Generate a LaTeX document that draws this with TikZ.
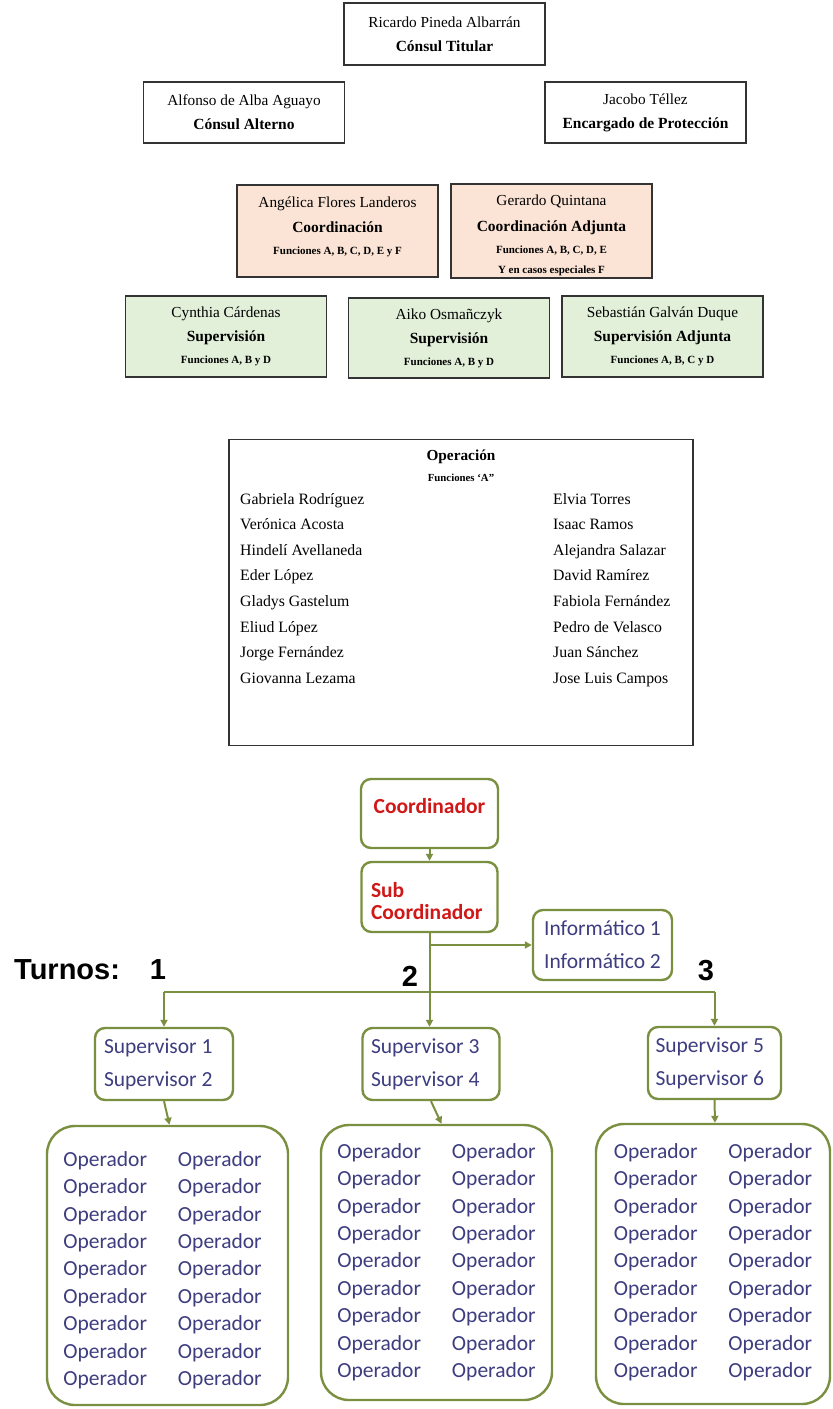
\documentclass[tikz,border=0pt]{standalone}
\usepackage{fontspec}
\setmainfont{Liberation Serif}
\newfontfamily\carlitofont{Carlito}
\newfontfamily\arialfont{Liberation Sans}
\usetikzlibrary{arrows.meta,calc}

\definecolor{peach}{HTML}{FBE4D5}
\definecolor{mint}{HTML}{E2EFD9}
\definecolor{olive}{HTML}{7A9040}
\definecolor{navy}{HTML}{3D3D80}
\definecolor{redtxt}{HTML}{D01818}
\definecolor{edgegray}{HTML}{333333}

\newcommand\nmf{\fontsize{15.3}{24}\selectfont}
\newcommand\ttf{\fontsize{15.5}{24}\selectfont\bfseries}
\newcommand\smf{\fontsize{11}{24}\selectfont\bfseries}

\tikzset{
  topbox/.style={draw=edgegray, line width=1.1pt, inner sep=0pt, align=center,
    minimum width=201pt, font=\fontsize{15.3}{24}\selectfont},
  peachbox/.style={topbox, fill=peach},
  mintbox/.style={topbox, fill=mint},
  gbox/.style={draw=olive, line width=2.4pt, rounded corners=10pt, fill=white,
    inner sep=0pt, font=\carlitofont\fontsize{21.5}{33}\selectfont, text=navy},
  redbox/.style={gbox, text=redtxt, font=\carlitofont\bfseries\fontsize{21.5}{22}\selectfont},
  opbox/.style={gbox, rounded corners=28pt},
  conn/.style={draw=olive, line width=2pt},
  arr/.style={conn, -{Triangle[length=7pt,width=7pt]}},
  turno/.style={font=\arialfont\bfseries\fontsize{29}{32}\selectfont, inner sep=0pt},
  oplist/.style={inner sep=0pt, align=left, font=\fontsize{15.8}{25.6}\selectfont}
}

\newcommand\opcol[2]{%
  \fontsize{21.5}{27.4}\selectfont
  \hspace*{#1}\raisebox{#2}[\height][\depth]{%
  \begin{tabular}{@{}l@{\hspace{31pt}}l@{}}
  Operador & Operador\\ Operador & Operador\\ Operador & Operador\\
  Operador & Operador\\ Operador & Operador\\ Operador & Operador\\
  Operador & Operador\\ Operador & Operador\\ Operador & Operador
  \end{tabular}}}

\begin{document}
\begin{tikzpicture}[x=1pt,y=-1pt]
\useasboundingbox[fill=white] (0,0) rectangle (833,1409);

% ---------- top chart ----------
\node[topbox, minimum height=62pt] (tit) at (444.5,34)
  {{\nmf Ricardo Pineda Albarrán}\\{\ttf Cónsul Titular}};
\node[topbox, minimum height=61pt] (alt) at (244,112.5)
  {{\nmf Alfonso de Alba Aguayo}\\{\ttf Cónsul Alterno}};
\node[topbox, minimum height=61pt] (pro) at (645.5,112.5)
  {{\nmf Jacobo Téllez}\\{\ttf Encargado de Protección}};

\node[peachbox, minimum height=92pt] (coo) at (337.5,231)
  {{\nmf Angélica Flores Landeros}\\[1pt]{\ttf Coordinación}\\[-2pt]{\smf Funciones A, B, C, D, E y F}\\[-14pt]\mbox{}};
\node[peachbox, minimum height=94pt] (coa) at (551.5,231)
  {\mbox{}\\[-4pt]{\nmf Gerardo Quintana}\\[2pt]{\ttf Coordinación Adjunta}\\[-2pt]{\smf Funciones A, B, C, D, E}\\[-4pt]{\smf Y en casos especiales F}};

\node[mintbox, minimum height=81pt] (su1) at (226,336.5)
  {{\nmf Cynthia Cárdenas}\\{\ttf Supervisión}\\[-2pt]{\smf Funciones A, B y D}};
\node[mintbox, minimum height=80pt] (su2) at (449,338)
  {{\nmf Aiko Osmañczyk}\\{\ttf Supervisión}\\[-2pt]{\smf Funciones A, B y D}};
\node[mintbox, minimum height=81pt] (su3) at (662.5,336.5)
  {{\nmf Sebastián Galván Duque}\\{\ttf Supervisión Adjunta}\\[-2pt]{\smf Funciones A, B, C y D}};

\node[topbox, minimum width=464pt, minimum height=306pt] (ope) at (461,592.5) {};
\node[inner sep=0pt, font=\fontsize{15.3}{20}\selectfont\bfseries] (opet) at (461,457) {Operación};
\node[inner sep=0pt, font=\fontsize{10.8}{14}\selectfont\bfseries] (opes) at (461,478) {Funciones ‘A”};
\node[oplist, anchor=north west] (opl) at (240,493)
  {Gabriela Rodríguez\\Verónica Acosta\\Hindelí Avellaneda\\Eder López\\Gladys Gastelum\\Eliud López\\Jorge Fernández\\Giovanna Lezama};
\node[oplist, anchor=north west] (opr) at (553,493)
  {Elvia Torres\\Isaac Ramos\\Alejandra Salazar\\David Ramírez\\Fabiola Fernández\\Pedro de Velasco\\Juan Sánchez\\Jose Luis Campos};

% ---------- bottom chart ----------
\node[redbox, minimum width=137pt, minimum height=69pt, align=center] (cdr) at (429.5,813.5)
  {Coordinador\\[-7pt]\mbox{}};
\node[redbox, minimum width=136pt, minimum height=70pt, align=flush left, text width=117pt] (sub) at (429.5,897)
  {\mbox{}\\[1pt]Sub\\Coordinador};
\node[gbox, minimum width=139pt, minimum height=70pt, align=flush left] (inf) at (602.5,945)
  {Informático 1\\Informático 2};

\node[gbox, minimum width=138pt, minimum height=72pt, align=flush left, text width=120pt] (sv1) at (164,1064)
  {Supervisor 1\\Supervisor 2};
\node[gbox, minimum width=137pt, minimum height=72pt, align=flush left, text width=120pt] (sv2) at (431,1064)
  {Supervisor 3\\Supervisor 4};
\node[gbox, minimum width=133pt, minimum height=72pt, align=flush left, text width=118pt] (sv3) at (714.5,1063)
  {Supervisor 5\\Supervisor 6};

\node[opbox, minimum width=241pt, minimum height=279pt] (op1) at (167.5,1265.5) {\opcol{-10pt}{-5pt}};
\node[opbox, minimum width=231pt, minimum height=275pt] (op2) at (436.5,1262.5) {\opcol{0pt}{0pt}};
\node[opbox, minimum width=234pt, minimum height=280pt] (op3) at (713,1264) {\opcol{0pt}{1.5pt}};

\node[turno, anchor=west] (tur) at (14,970) {Turnos:};
\node[turno] (t1) at (158,970) {1};
\node[turno] (t2) at (410,976) {2};
\node[turno] (t3) at (706,971) {3};

\coordinate (busL) at (sv1.north |- 0,992);
\coordinate (busR) at (sv3.north |- 0,992);

\draw[arr] (cdr.south) -- (sub.north);
\draw[arr] (sub.south) -- (sub.south |- sv2.north);
\draw[arr] (sub.south |- inf.west) -- (inf.west);
\draw[conn] (busL) -- (busR);
\draw[arr] (busL) -- (sv1.north);
\draw[arr] (busR) -- (sv3.north);
\draw[arr] (sv1.south) -- ([xshift=2pt]op1.north);
\draw[arr] (sv2.south) -- ([xshift=5pt]op2.north);
\draw[arr] (sv3.south) -- ([xshift=2pt]op3.north);
\end{tikzpicture}
\end{document}
